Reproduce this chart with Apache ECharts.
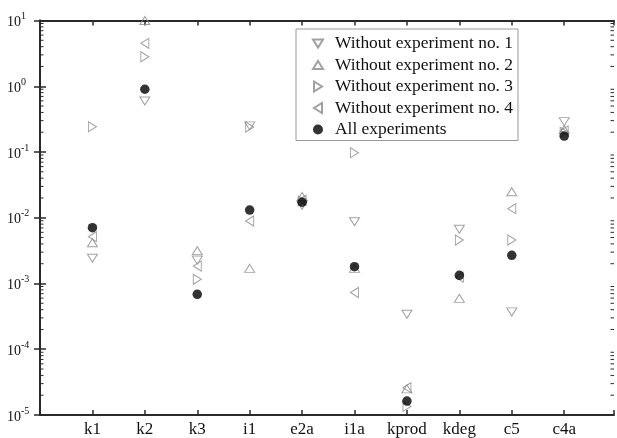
<!DOCTYPE html>
<html>
<head>
<meta charset="utf-8">
<script src="https://cdn.jsdelivr.net/npm/echarts@6/dist/echarts.min.js"></script>
<style>html,body{margin:0;padding:0;background:#fff;}#c{width:617px;height:438px;}</style>
</head>
<body>
<div id="c"></div>
<script>
const categories = ['k1','k2','k3','i1','e2a','i1a','kprod','kdeg','c5','c4a'];
const without1 = [0.00242, 0.597, 0.00227, 0.25, 0.0155, 0.0087, 0.00034, 0.00667, 0.00037, 0.29];
const without2 = [0.00417, 10.0, 0.00315, 0.0017, 0.021, 0.0017, 2.5e-5, 0.000595, 0.0249, 0.22];
const without3 = [0.243, 2.8, 0.00116, 0.24, 0.018, 0.0977, 1.35e-5, 0.00459, 0.00459, 0.2];
const without4 = [0.00515, 4.5, 0.00184, 0.00893, 0.0185, 0.00073, 2.6e-5, 0.00125, 0.01375, 0.21];
const allExp   = [0.00706, 0.90, 0.000684, 0.0131, 0.0172, 0.0018, 1.63e-5, 0.00133, 0.00268, 0.175];
const seriesNames = ['Without experiment no. 1','Without experiment no. 2','Without experiment no. 3','Without experiment no. 4','All experiments'];
const yMin = 1e-5, yMax = 10;
const xMin = 0, xMax = 10.95;

const FONT = "'Liberation Serif','Times New Roman',serif";
const GREY = '#8a8a8a';
const AXC = '#2a2a2a';

function pts(arr){ return arr.map((v,i)=>[i+1, v]); }

const minorVals = [];
for (let e=-5; e<=0; e++) for (let k=2; k<=9; k++) minorVals.push([0, k*Math.pow(10,e)]);

const triStyle = {color:'rgba(0,0,0,0)', borderColor:GREY, borderWidth:1};
const syms = [
  {symbol:'path://M0,0L10,0L5,8Z', size:[10,8]},
  {symbol:'path://M5,0L10,8L0,8Z', size:[10,8]},
  {symbol:'path://M0,0L8,5L0,10Z', size:[8,10]},
  {symbol:'path://M8,0L8,10L0,5Z', size:[8,10]}
];
const dataSets = [without1, without2, without3, without4];

const series = dataSets.map((d,i)=>({
  name: seriesNames[i], type:'scatter', data: pts(d),
  symbol: syms[i].symbol, symbolSize: syms[i].size,
  itemStyle: triStyle, z: 3
}));
series.push({
  name: seriesNames[4], type:'scatter', data: pts(allExp),
  symbol:'circle', symbolSize:9.5, itemStyle:{color:'#000'}, z:4
});
series.push({
  type:'custom', data: minorVals, silent:true, z:5, clip:false,
  renderItem: function(params, api){
    const v = api.value(1);
    const l = api.coord([xMin, v]);
    const r = api.coord([xMax, v]);
    return {type:'group', children:[
      {type:'line', shape:{x1:l[0], y1:l[1], x2:l[0]+3.5, y2:l[1]}, style:{stroke:AXC, lineWidth:1}},
      {type:'line', shape:{x1:r[0], y1:r[1], x2:r[0]-3.5, y2:r[1]}, style:{stroke:AXC, lineWidth:1}}
    ]};
  }
});

const axisLine = {show:true, lineStyle:{color:AXC, width:2}};
const option = {
  animation:false,
  backgroundColor:'#fff',
  grid:{left:40, right:3, top:20.5, bottom:23, containLabel:false},
  legend:{
    orient:'vertical', left:296, top:29,
    data: seriesNames,
    itemWidth:10, itemHeight:10, itemGap:3.5,
    padding:[5.5,5,2,16],
    borderColor:'#9a9a9a', borderWidth:1, backgroundColor:'#fff',
    textStyle:{fontFamily:FONT, fontSize:17.4, color:'#111', lineHeight:18, padding:[0,0,0,7]}
  },
  xAxis:[
    {type:'value', min:xMin, max:xMax, interval:1, position:'bottom',
     axisLine:axisLine, splitLine:{show:false},
     axisTick:{show:true, inside:true, length:5, lineStyle:{color:AXC, width:1.5}},
     axisLabel:{margin:6, fontFamily:FONT, fontSize:17, color:'#111',
       formatter:function(v){ return (Number.isInteger(v) && v>=1 && v<=categories.length) ? categories[v-1] : ''; }}},
    {type:'value', min:xMin, max:xMax, interval:1, position:'top',
     axisLine:axisLine, splitLine:{show:false},
     axisTick:{show:true, inside:true, length:5, lineStyle:{color:AXC, width:1.5}},
     axisLabel:{show:false}}
  ],
  yAxis:[
    {type:'log', logBase:10, min:yMin, max:yMax, position:'left',
     axisLine:axisLine, splitLine:{show:false},
     axisTick:{show:true, inside:true, length:6, lineStyle:{color:AXC, width:1.5}},
     axisLabel:{margin:33, align:'left', color:'#111', padding:[4,0,0,0],
       formatter:function(v){ const e=Math.round(Math.log10(v)); return '{b|10}{s|'+e+'}'; },
       rich:{b:{fontFamily:FONT, fontSize:14, lineHeight:22, color:'#111'},
             s:{fontFamily:FONT, fontSize:10, lineHeight:12, verticalAlign:'top', color:'#111'}}}},
    {type:'log', logBase:10, min:yMin, max:yMax, position:'right',
     axisLine:axisLine, splitLine:{show:false},
     axisTick:{show:true, inside:true, length:6, lineStyle:{color:AXC, width:1.5}},
     axisLabel:{show:false}}
  ],
  series: series
};
const chart = echarts.init(document.getElementById('c'), null, {renderer:'canvas'});
chart.setOption(option);
</script>
</body>
</html>
